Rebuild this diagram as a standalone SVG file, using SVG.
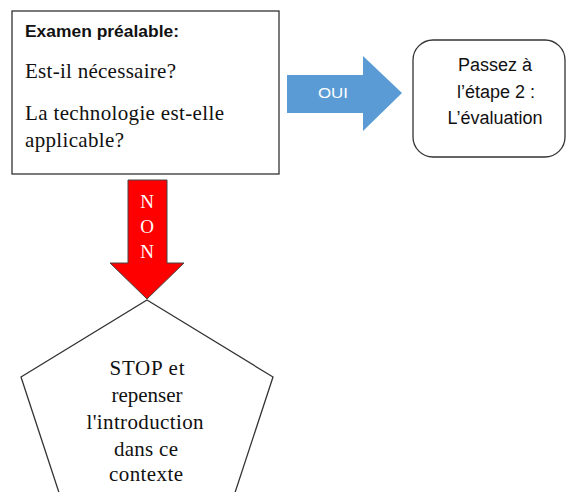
<svg xmlns="http://www.w3.org/2000/svg" width="566" height="492" viewBox="0 0 566 492">
<style>
.sans{font-family:"Liberation Sans","DejaVu Sans",sans-serif}
.serif{font-family:"Liberation Serif","DejaVu Serif",serif}
.box{fill:#fff;stroke:#333;stroke-width:1.3}
.t{fill:#111}
.m{text-anchor:middle}
</style>
<rect width="566" height="492" fill="#fff"/>
<g id="examen">
<rect class="box" x="12" y="11" width="267" height="163"/>
<text class="sans t" x="25" y="37" font-size="16.5" font-weight="bold" textLength="154" lengthAdjust="spacingAndGlyphs">Examen préalable:</text>
<text class="serif t" x="25" y="78" font-size="21" textLength="151">Est-il nécessaire?</text>
<text class="serif t" x="25" y="120" font-size="21" textLength="199">La technologie est-elle</text>
<text class="serif t" x="25" y="147" font-size="21" textLength="99">applicable?</text>
</g>
<g id="connectors">
<g id="oui">
<polygon points="287,75 363,75 363,56 402,93 363,131 363,113 287,113" fill="#5b9bd5"/>
<text class="sans m" x="333" y="98" font-size="15" fill="#fff" textLength="30" lengthAdjust="spacingAndGlyphs">OUI</text>
</g>
<g id="non">
<polygon points="128,180 167,180 167,263 184,263 147,299 110,263 128,263" fill="#ff0000" stroke="#444" stroke-width="1"/>
<text class="serif m" x="147" y="208" font-size="19" fill="#fff">N</text>
<text class="serif m" x="147" y="233" font-size="19" fill="#fff">O</text>
<text class="serif m" x="147" y="258" font-size="19" fill="#fff">N</text>
</g>
</g>
<g id="etape2">
<rect class="box" x="413" y="40" width="152" height="117" rx="20" ry="20"/>
<text class="sans t m" x="495" y="71" font-size="18">Passez à</text>
<text class="sans t m" x="496" y="98" font-size="18">l’étape 2 :</text>
<text class="sans t m" x="495" y="124" font-size="18">L’évaluation</text>
</g>
<g id="stop">
<polygon class="box" points="147,300 273,377 226,520 68,520 21,377"/>
<text class="serif t m" x="147" y="375" font-size="21" textLength="75">STOP et</text>
<text class="serif t m" x="147" y="402" font-size="21" textLength="71">repenser</text>
<text class="serif t m" x="145" y="429" font-size="21" textLength="117">l'introduction</text>
<text class="serif t m" x="146" y="456" font-size="21" textLength="64">dans ce</text>
<text class="serif t m" x="146" y="481" font-size="21" textLength="74">contexte</text>
</g>
</svg>
